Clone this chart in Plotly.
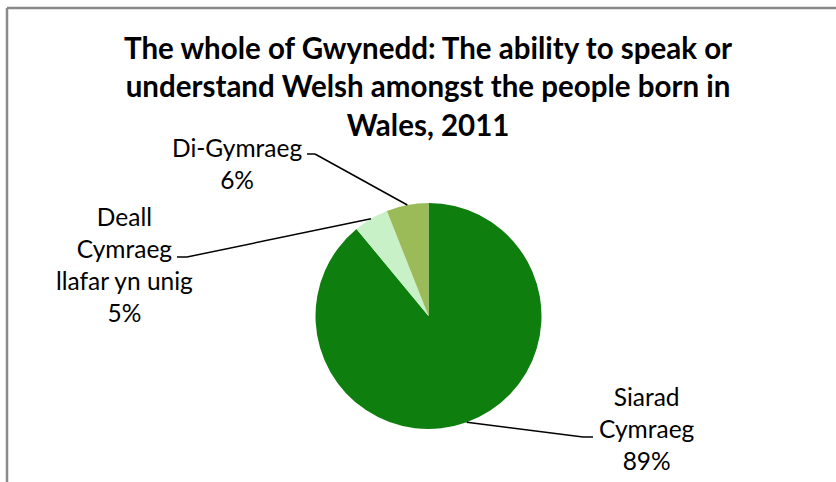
import math
import plotly.graph_objects as go

# Welsh-language ability of people born in Wales, Gwynedd 2011 (percent)
categories = ["Siarad Cymraeg", "Deall Cymraeg llafar yn unig", "Di-Gymraeg"]
label_lines = ["Siarad<br>Cymraeg", "Deall<br>Cymraeg<br>llafar yn unig", "Di-Gymraeg"]
shares = [89, 5, 6]
colors = ["#0E7F0E", "#C8F1C8", "#9BBB59"]

title_text = ("The whole of Gwynedd: The ability to speak or<br>"
              "understand Welsh amongst the people born in<br>Wales, 2011")

W, H = 836, 482
CX, CY, R = 428.5, 316.0, 113.0


def px(x):
    return x / W


def py(y):
    return 1 - y / H


fig = go.Figure(go.Pie(
    labels=categories,
    values=shares,
    sort=False,
    direction="clockwise",
    rotation=0,
    marker=dict(colors=colors, line=dict(width=0)),
    textinfo="none",
    hoverinfo="label+percent",
    showlegend=False,
    domain=dict(x=[px(CX - R), px(CX + R)], y=[py(CY + R), py(CY - R)]),
))

# label block centre and the short horizontal stub of each leader line
label_pos = [(647, 428), (124, 264), (236.5, 163)]
stub = [((583, 437), (593, 437)), ((187, 257), (177, 257)), ((315, 154), (307, 154))]

font_label = dict(family="Lato", size=24.5, color="#000000")
annotations = []
shapes = []
total = sum(shares)
start = 0.0
for name, lines, v, (lx, ly), (s0, s1) in zip(categories, label_lines, shares, label_pos, stub):
    mid = (start + v / 2) / total * 2 * math.pi
    start += v
    ax = CX + R * math.sin(mid)
    ay = CY - R * math.cos(mid)
    annotations.append(dict(
        text=f"{lines}<br>{v}%", x=px(lx), y=py(ly), xref="paper", yref="paper",
        xanchor="center", yanchor="middle", showarrow=False, align="center",
        font=font_label,
    ))
    for (x0, y0), (x1, y1) in [((ax, ay), s0), (s0, s1)]:
        shapes.append(dict(type="line", xref="paper", yref="paper",
                           x0=px(x0), y0=py(y0), x1=px(x1), y1=py(y1),
                           line=dict(color="#000000", width=1.5)))

annotations.append(dict(
    text=f"<b>{title_text}</b>", x=px(427.5), y=py(86), xref="paper", yref="paper",
    xanchor="center", yanchor="middle", showarrow=False, align="center",
    font=dict(family="Lato", size=29.5, color="#000000"),
))

# chart frame (top and left edges)
for x0, y0, x1, y1 in [(7, 8, 845, 8), (7, 8, 7, 495)]:
    shapes.append(dict(type="line", xref="paper", yref="paper",
                       x0=px(x0), y0=py(y0), x1=px(x1), y1=py(y1),
                       line=dict(color="#8A8A8A", width=2.5)))

fig.update_layout(
    width=W, height=H,
    margin=dict(l=0, r=0, t=0, b=0),
    paper_bgcolor="#FFFFFF",
    plot_bgcolor="#FFFFFF",
    annotations=annotations,
    shapes=shapes,
)

fig.write_html("out.html")
